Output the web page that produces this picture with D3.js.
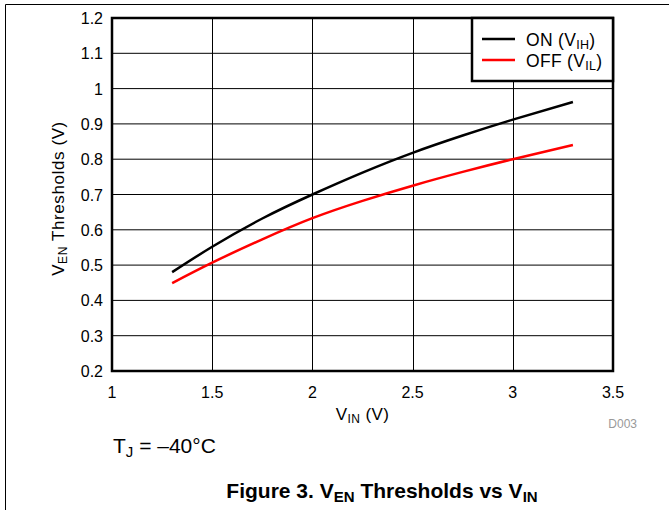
<!DOCTYPE html>
<html>
<head>
<meta charset="utf-8">
<script src="https://cdn.jsdelivr.net/npm/d3@7"></script>
<style>
  body { margin: 0; background: #fff; }
  text { font-family: 'Liberation Sans', Arial, sans-serif; }
</style>
</head>
<body>
<div id="graf"></div>
<script>
// datos
const vinOn = [1.3, 1.5, 1.75, 2.0, 2.25, 2.5, 2.75, 3.0, 3.3]
const vOn = [0.48, 0.552, 0.632, 0.70, 0.762, 0.818, 0.867, 0.912, 0.962]
const vinOff = [1.3, 1.5, 1.75, 2.0, 2.25, 2.5, 2.75, 3.0, 3.3]
const vOff = [0.449, 0.507, 0.573, 0.633, 0.682, 0.725, 0.764, 0.80, 0.84]
const xTicks = [1, 1.5, 2, 2.5, 3, 3.5]
const yTicks = [0.2, 0.3, 0.4, 0.5, 0.6, 0.7, 0.8, 0.9, 1, 1.1, 1.2]

const anchoTotal = 669
const altoTotal = 510

const svg = d3.select('#graf')
  .append('svg')
  .attr('width', anchoTotal)
  .attr('height', altoTotal)

// marco de la pagina
svg.append('path')
  .attr('d', 'M5.5,510 L5.5,4.5 L669,4.5')
  .attr('fill', 'none')
  .attr('stroke', '#000')
  .attr('stroke-width', 1)

const margin = { top: 18, left: 112 }
const ancho = 501
const alto = 353

const g = svg.append('g')
  .attr('transform', `translate(${margin.left}, ${margin.top})`)

const x = d3.scaleLinear().domain([1, 3.5]).range([0, ancho])
const y = d3.scaleLinear().domain([0.2, 1.2]).range([alto, 0])

// rejilla
g.append('g')
  .selectAll('line')
  .data(xTicks)
  .join('line')
  .attr('x1', (d) => Math.round(x(d)) + 0.5)
  .attr('x2', (d) => Math.round(x(d)) + 0.5)
  .attr('y1', 0)
  .attr('y2', alto)
  .attr('stroke', '#000')

g.append('g')
  .selectAll('line')
  .data(yTicks)
  .join('line')
  .attr('x1', 0)
  .attr('x2', ancho)
  .attr('y1', (d) => y(d))
  .attr('y2', (d) => y(d))
  .attr('stroke', '#000')

// etiquetas de ejes
g.append('g')
  .selectAll('text')
  .data(xTicks)
  .join('text')
  .attr('x', (d) => x(d))
  .attr('y', alto + 27)
  .attr('text-anchor', 'middle')
  .attr('font-size', 16)
  .text((d) => d)

g.append('g')
  .selectAll('text')
  .data(yTicks)
  .join('text')
  .attr('x', -9)
  .attr('y', (d) => y(d) + 6)
  .attr('text-anchor', 'end')
  .attr('font-size', 16)
  .text((d) => d)

const linea = d3.line()
  .x((d) => x(d[0]))
  .y((d) => y(d[1]))
  .curve(d3.curveNatural)

g.append('path')
  .datum(d3.zip(vinOff, vOff))
  .attr('d', linea)
  .attr('fill', 'none')
  .attr('stroke', '#ff0000')
  .attr('stroke-width', 2.5)

g.append('path')
  .datum(d3.zip(vinOn, vOn))
  .attr('d', linea)
  .attr('fill', 'none')
  .attr('stroke', '#000')
  .attr('stroke-width', 2.5)

// borde del area
g.append('rect')
  .attr('x', 0)
  .attr('y', 0)
  .attr('width', ancho)
  .attr('height', alto)
  .attr('fill', 'none')
  .attr('stroke', '#000')
  .attr('stroke-width', 2.5)

// leyenda
const ley = g.append('g').attr('transform', `translate(${ancho - 141}, 0)`)
ley.append('rect')
  .attr('x', 0)
  .attr('y', 0)
  .attr('width', 141)
  .attr('height', 63)
  .attr('fill', '#fff')
  .attr('stroke', '#000')
  .attr('stroke-width', 2.5)

const items = [
  { txt: 'ON (V', sub: 'IH', color: '#000' },
  { txt: 'OFF (V', sub: 'IL', color: '#ff0000' },
]
items.forEach((it, i) => {
  const yy = 21 + i * 21
  ley.append('line')
    .attr('x1', 10).attr('x2', 43)
    .attr('y1', yy).attr('y2', yy)
    .attr('stroke', it.color)
    .attr('stroke-width', 2.5)
  const t = ley.append('text')
    .attr('x', 54)
    .attr('y', yy + 7)
    .attr('font-size', 17.5)
    .attr('letter-spacing', 0.3)
  t.append('tspan').text(it.txt)
  t.append('tspan').attr('font-size', 12.5).attr('dy', 3).text(it.sub)
  t.append('tspan').attr('dy', -3).text(')')
})

// titulos
const tx = g.append('text')
  .attr('x', ancho / 2)
  .attr('y', alto + 49)
  .attr('text-anchor', 'middle')
  .attr('font-size', 17)
  .attr('letter-spacing', 0.4)
tx.append('tspan').text('V')
tx.append('tspan').attr('font-size', 12).attr('dy', 3).text('IN')
tx.append('tspan').attr('dy', -3).text(' (V)')

const ty = g.append('text')
  .attr('transform', `translate(-48, ${alto / 2 + 4}) rotate(-90)`)
  .attr('text-anchor', 'middle')
  .attr('font-size', 17)
  .attr('letter-spacing', 0.6)
ty.append('tspan').text('V')
ty.append('tspan').attr('font-size', 12).attr('dy', 3).text('EN')
ty.append('tspan').attr('dy', -3).text(' Thresholds (V)')

svg.append('text')
  .attr('x', 637)
  .attr('y', 428)
  .attr('text-anchor', 'end')
  .attr('font-size', 12)
  .attr('fill', '#999')
  .text('D003')

const tj = svg.append('text')
  .attr('x', 113)
  .attr('y', 453)
  .attr('font-size', 21)
tj.append('tspan').text('T')
tj.append('tspan').attr('font-size', 15).attr('dy', 4).text('J')
tj.append('tspan').attr('dy', -4).text(' = \u201340\u00b0C')

const cap = svg.append('text')
  .attr('x', 382)
  .attr('y', 498)
  .attr('text-anchor', 'middle')
  .attr('font-size', 21)
  .attr('font-weight', 'bold')
cap.append('tspan').text('Figure 3. V')
cap.append('tspan').attr('font-size', 15).attr('dy', 4).text('EN')
cap.append('tspan').attr('dy', -4).text(' Thresholds vs V')
cap.append('tspan').attr('font-size', 15).attr('dy', 4).text('IN')
</script>
</body>
</html>
